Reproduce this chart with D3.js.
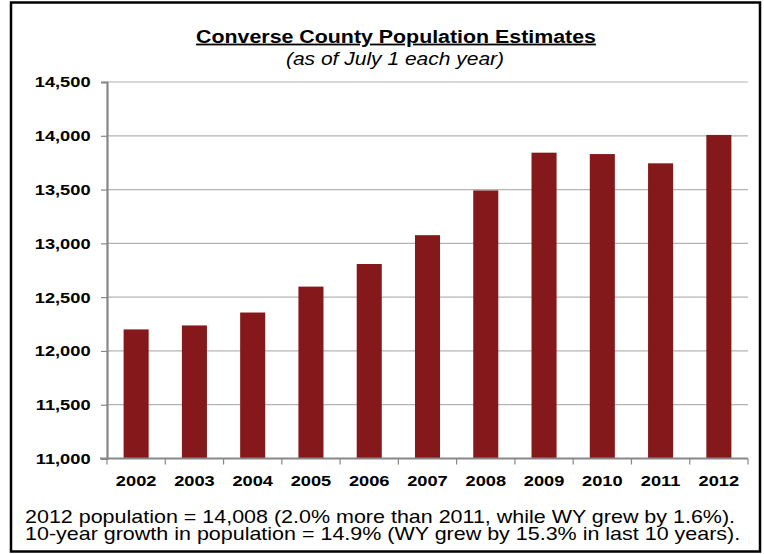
<!DOCTYPE html>
<html lang="en">
<head>
    <meta charset="UTF-8">
    <title>Converse County Population Estimates</title>
    <script src="https://d3js.org/d3.v7.min.js"></script>
    <style>
        body { margin: 0; background: #fff; }
        text { font-family: "Liberation Sans", Arial, sans-serif; fill: #000; }
    </style>
</head>
<body>
<div id="chart"></div>
<script>
    // data
    var years = ["2002", "2003", "2004", "2005", "2006", "2007", "2008", "2009", "2010", "2011", "2012"];
    var population = [12200, 12237, 12357, 12598, 12808, 13076, 13492, 13843, 13830, 13744, 14008];
    var yTicks = [11000, 11500, 12000, 12500, 13000, 13500, 14000, 14500];
    var footerLines = [
        "2012 population = 14,008 (2.0% more than 2011, while WY grew by 1.6%).",
        "10-year growth in population = 14.9% (WY grew by 15.3% in last 10 years)."
    ];

    var W = 764, H = 554;
    var sx = 1.2; // the original text looks stretched sideways
    var plotLeft = 107, plotRight = 748, plotTop = 82, plotBottom = 458.5;

    var svg = d3.select("#chart").append("svg")
        .attr("width", W)
        .attr("height", H);

    // outer frame
    svg.append("rect")
        .attr("x", 11).attr("y", 2.5)
        .attr("width", 749).attr("height", 549)
        .attr("fill", "none")
        .attr("stroke", "#000")
        .attr("stroke-width", 2.5);

    var x = d3.scaleBand()
        .domain(years)
        .range([plotLeft, plotRight])
        .paddingInner(0.57)
        .paddingOuter(0.285);

    var y = d3.scaleLinear()
        .domain([11000, 14500])
        .range([plotBottom, plotTop]);

    //gridlines
    svg.append("g").selectAll("line")
        .data(yTicks.filter(function(d) { return d > 11000; }))
        .enter().append("line")
        .attr("x1", plotLeft).attr("x2", plotRight)
        .attr("y1", function(d) { return y(d); })
        .attr("y2", function(d) { return y(d); })
        .attr("stroke", "#b3b3b3")
        .attr("stroke-width", 1.2);

    //bars
    svg.append("g").selectAll("rect")
        .data(years)
        .enter().append("rect")
        .attr("x", function(d) { return x(d); })
        .attr("width", x.bandwidth())
        .attr("y", function(d, i) { return y(population[i]); })
        .attr("height", function(d, i) { return plotBottom - y(population[i]); })
        .attr("fill", "#84181a");

    //y axis
    var yAxis = svg.append("g")
        .attr("transform", "translate(" + plotLeft + ",0)")
        .call(d3.axisLeft(y).tickValues(yTicks).tickSize(6).tickFormat(d3.format(",")));
    yAxis.attr("font-family", null).attr("font-size", null);
    yAxis.select(".domain").attr("stroke", "#878787").attr("stroke-width", 2.2);
    yAxis.selectAll(".tick line").attr("stroke", "#878787").attr("stroke-width", 1.2);
    yAxis.selectAll("text")
        .attr("x", -16.5 / sx)
        .attr("transform", "scale(" + sx + ",1)")
        .style("font-size", "15.2px")
        .style("font-weight", "bold")
        .style("fill", "#000");

    //x axis with ticks between the bars
    var step = x.step();
    var xAxis = svg.append("g")
        .attr("transform", "translate(0," + plotBottom + ")")
        .call(d3.axisBottom(x).tickSize(0).tickPadding(16.7));
    xAxis.attr("font-family", null).attr("font-size", null);
    xAxis.select(".domain")
        .attr("d", "M" + (plotLeft - 7) + ",0H" + plotRight)
        .attr("stroke", "#878787").attr("stroke-width", 2.2);
    xAxis.selectAll("text")
        .attr("transform", "scale(" + sx + ",1)")
        .style("font-size", "15.2px")
        .style("font-weight", "bold")
        .style("fill", "#000");
    xAxis.append("g").selectAll("line")
        .data(d3.range(years.length + 1))
        .enter().append("line")
        .attr("x1", function(i) { return plotLeft + i * step; })
        .attr("x2", function(i) { return plotLeft + i * step; })
        .attr("y1", 0).attr("y2", 6)
        .attr("stroke", "#878787")
        .attr("stroke-width", 1.2);

    //helper for stretched text
    function label(tx, ty, str, size, anchor) {
        return svg.append("text")
            .attr("transform", "translate(" + tx + "," + ty + ") scale(" + sx + ",1)")
            .attr("text-anchor", anchor)
            .style("font-size", size + "px")
            .text(str);
    }

    //title and subtitle
    label(396, 42.7, "Converse County Population Estimates", 17.8, "middle")
        .style("font-weight", "bold")
        .style("text-decoration", "underline");
    label(395, 65, "(as of July 1 each year)", 17.5, "middle")
        .style("font-style", "italic");

    //footer
    footerLines.forEach(function(t, i) {
        label(25, 523.3 + i * 17, t, 17.9, "start");
    });
</script>
</body>
</html>
